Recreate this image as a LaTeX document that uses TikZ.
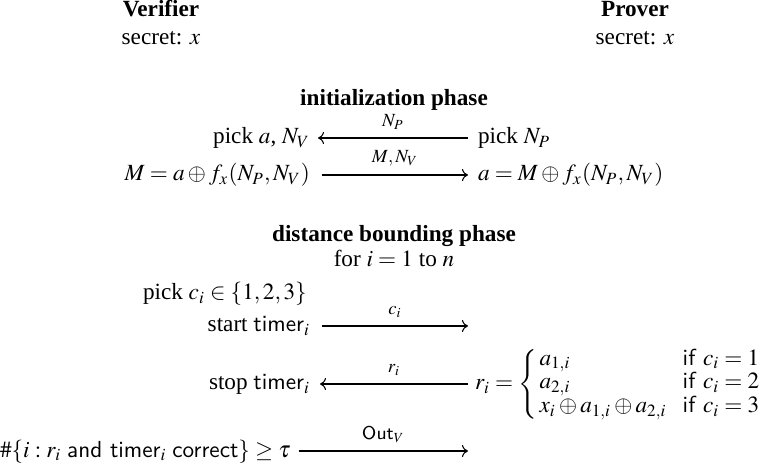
\documentclass[tikz,border=0pt]{standalone}
\usepackage{amsmath}
\usepackage{mathptmx}
\usepackage[no-math]{fontspec}
\setmainfont{Liberation Serif}
\usetikzlibrary{arrows.meta}
\tikzset{
  txt/.style={inner sep=0pt, outer sep=0pt, font=\fontsize{10}{12}\selectfont},
  msg/.style={line width=0.45pt, -{To[length=2.6pt,width=5.2pt]}},
  lbl/.style={inner sep=0pt, above=3.5pt, font=\footnotesize}
}
\begin{document}
\begin{tikzpicture}[x=0.431pt, y=-0.431pt]
\useasboundingbox (0,0) rectangle (771,472);
% parties
\node[txt, anchor=base] (ver) at (161,17) {\textbf{Verifier}};
\node[txt, anchor=base] (vsec) at (161,45) {secret: $x$};
\node[txt, anchor=base] (prv) at (635,17) {\textbf{Prover}};
\node[txt, anchor=base] (psec) at (635,45) {secret: $x$};
% initialization phase
\node[txt, anchor=base] (init) at (394,106) {\textbf{initialization phase}};
\node[txt, anchor=base east] (r1l) at (310,144) {pick $a$, $N_V$};
\node[txt, anchor=base west] (r1r) at (478,144) {pick $N_P$};
\draw[msg] ([shift={(-10,-6)}]r1r.base west) -- ([shift={(8,-6)}]r1l.base east)
  node[lbl, midway] {$N_P$};
\node[txt, anchor=base east] (r2l) at (310,181) {$M = a \oplus f_x(N_P,N_V)$};
\node[txt, anchor=base west] (r2r) at (478,181) {$a = M \oplus f_x(N_P,N_V)$};
\draw[msg] ([shift={(12,-6)}]r2l.base east) -- ([shift={(-10,-6)}]r2r.base west)
  node[lbl, midway] {$M,N_V$};
% distance bounding phase
\node[txt, anchor=base] (dist) at (394,242) {\textbf{distance bounding phase}};
\node[txt, anchor=base] (for) at (394,267) {for $i = 1$ to $n$};
\node[txt, anchor=base west] (pick) at (143,300) {pick $c_i \in \{1,2,3\}$};
\node[txt, anchor=base east] (start) at (310,332) {start $\textsf{timer}_i$};
\coordinate (e1) at (468,326);
\draw[msg] ([shift={(12,-6)}]start.base east) -- (e1)
  node[lbl, midway] {$c_i$};
\node[txt, anchor=base east] (stop) at (310,390) {stop $\textsf{timer}_i$};
\node[txt, anchor=base west] (resp) at (475,390) {$r_i = \left\{\def\arraystretch{0.85}\begin{array}{@{\,}l@{\hspace{7pt}}l@{}}
  a_{1,i} & \text{\sffamily if } c_i = 1\\
  a_{2,i} & \text{\sffamily if } c_i = 2\\
  x_i \oplus a_{1,i} \oplus a_{2,i} & \text{\sffamily if } c_i = 3
  \end{array}\right.$};
\draw[msg] ([shift={(-7,-6)}]resp.base west) -- ([shift={(10,-6)}]stop.base east)
  node[lbl, midway] {$r_i$};
\node[txt, anchor=base west] (acc) at (0,457) {$\#\{i : r_i \text{ \sffamily and } \textsf{timer}_i \text{ \sffamily correct}\} \geq \tau$};
\coordinate (e2) at (468,451);
\draw[msg] ([shift={(8,-6)}]acc.base east) -- (e2)
  node[lbl, midway] {$\textsf{Out}_V$};
\end{tikzpicture}
\end{document}
